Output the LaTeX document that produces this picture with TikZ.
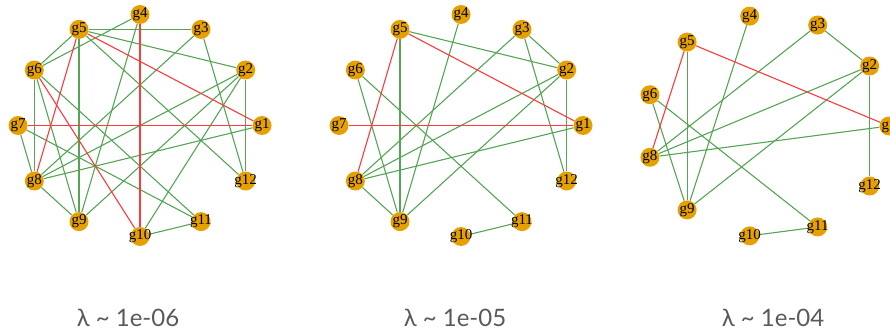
\documentclass[tikz,border=0pt]{standalone}
\usepackage{fontspec}
\usepackage{tikz}
\usetikzlibrary{backgrounds}
\newfontfamily\capfont{Lato}
\newfontfamily\vfont{Liberation Serif}
\definecolor{vorange}{HTML}{E6A000}
\definecolor{pgreen}{RGB}{85,165,85}
\definecolor{nred}{RGB}{250,60,60}
\definecolor{capgray}{HTML}{5A5A5A}

\begin{document}
\begin{tikzpicture}[x=1pt,y=-1pt,
  vtx/.style={circle,fill=vorange,inner sep=0pt,minimum size=19pt,
    font=\vfont\fontsize{15}{15}\selectfont},
  posedge/.style={draw=pgreen,line width=1.1pt},
  negedge/.style={draw=nred,line width=1.1pt},
  lambdalab/.style={font=\capfont\fontsize{24}{24}\selectfont,text=capgray,anchor=base}]
\useasboundingbox (0,0) rectangle (890,331);
% lambda ~ 1e-06
\foreach \i in {1,...,12}
  \node[vtx] (a\i) at ({140+122*cos((\i-1)*30)},{125.5-111*sin((\i-1)*30)}) {\makebox[0pt]{g\i}};
\begin{scope}[on background layer]
\foreach \p/\q in {4/6,4/9,5/3,5/2,5/12,5/9,5/6,3/8,3/12,6/8,6/9,6/11,
                   2/12,2/8,2/9,2/10,7/8,7/11,1/8,8/9,10/11}
  \draw[posedge] (a\p) -- (a\q);
\foreach \p/\q in {4/10,5/1,5/8,6/10,7/1}
  \draw[negedge] (a\p) -- (a\q);
\end{scope}
% lambda ~ 1e-05
\foreach \i in {1,...,12}
  \node[vtx] (b\i) at ({461+122*cos((\i-1)*30)},{125.5-111*sin((\i-1)*30)}) {\makebox[0pt]{g\i}};
\begin{scope}[on background layer]
\foreach \p/\q in {5/2,5/9,4/9,3/8,3/2,3/12,6/9,6/11,2/12,2/8,2/9,1/8,8/9,10/11}
  \draw[posedge] (b\p) -- (b\q);
\foreach \p/\q in {5/1,5/8,7/1}
  \draw[negedge] (b\p) -- (b\q);
\end{scope}
% lambda ~ 1e-04 (g7 dropped)
\foreach \g [count=\k from 0] in {1,2,3,4,5,6,8,9,10,11,12}
  \node[vtx] (c\g) at ({767+122*cos(\k*360/11)},{126-111*sin(\k*360/11)}) {\makebox[0pt]{g\g}};
\begin{scope}[on background layer]
\foreach \p/\q in {5/9,4/9,3/8,3/2,6/9,6/11,2/8,2/9,2/12,1/8,10/11}
  \draw[posedge] (c\p) -- (c\q);
\foreach \p/\q in {5/1,5/8}
  \draw[negedge] (c\p) -- (c\q);
\end{scope}
\node[lambdalab] (lab1) at (128,326) {λ \textasciitilde{} 1e-06};
\node[lambdalab] (lab2) at (455,326) {λ \textasciitilde{} 1e-05};
\node[lambdalab] (lab3) at (773,326) {λ \textasciitilde{} 1e-04};
\end{tikzpicture}
\end{document}
